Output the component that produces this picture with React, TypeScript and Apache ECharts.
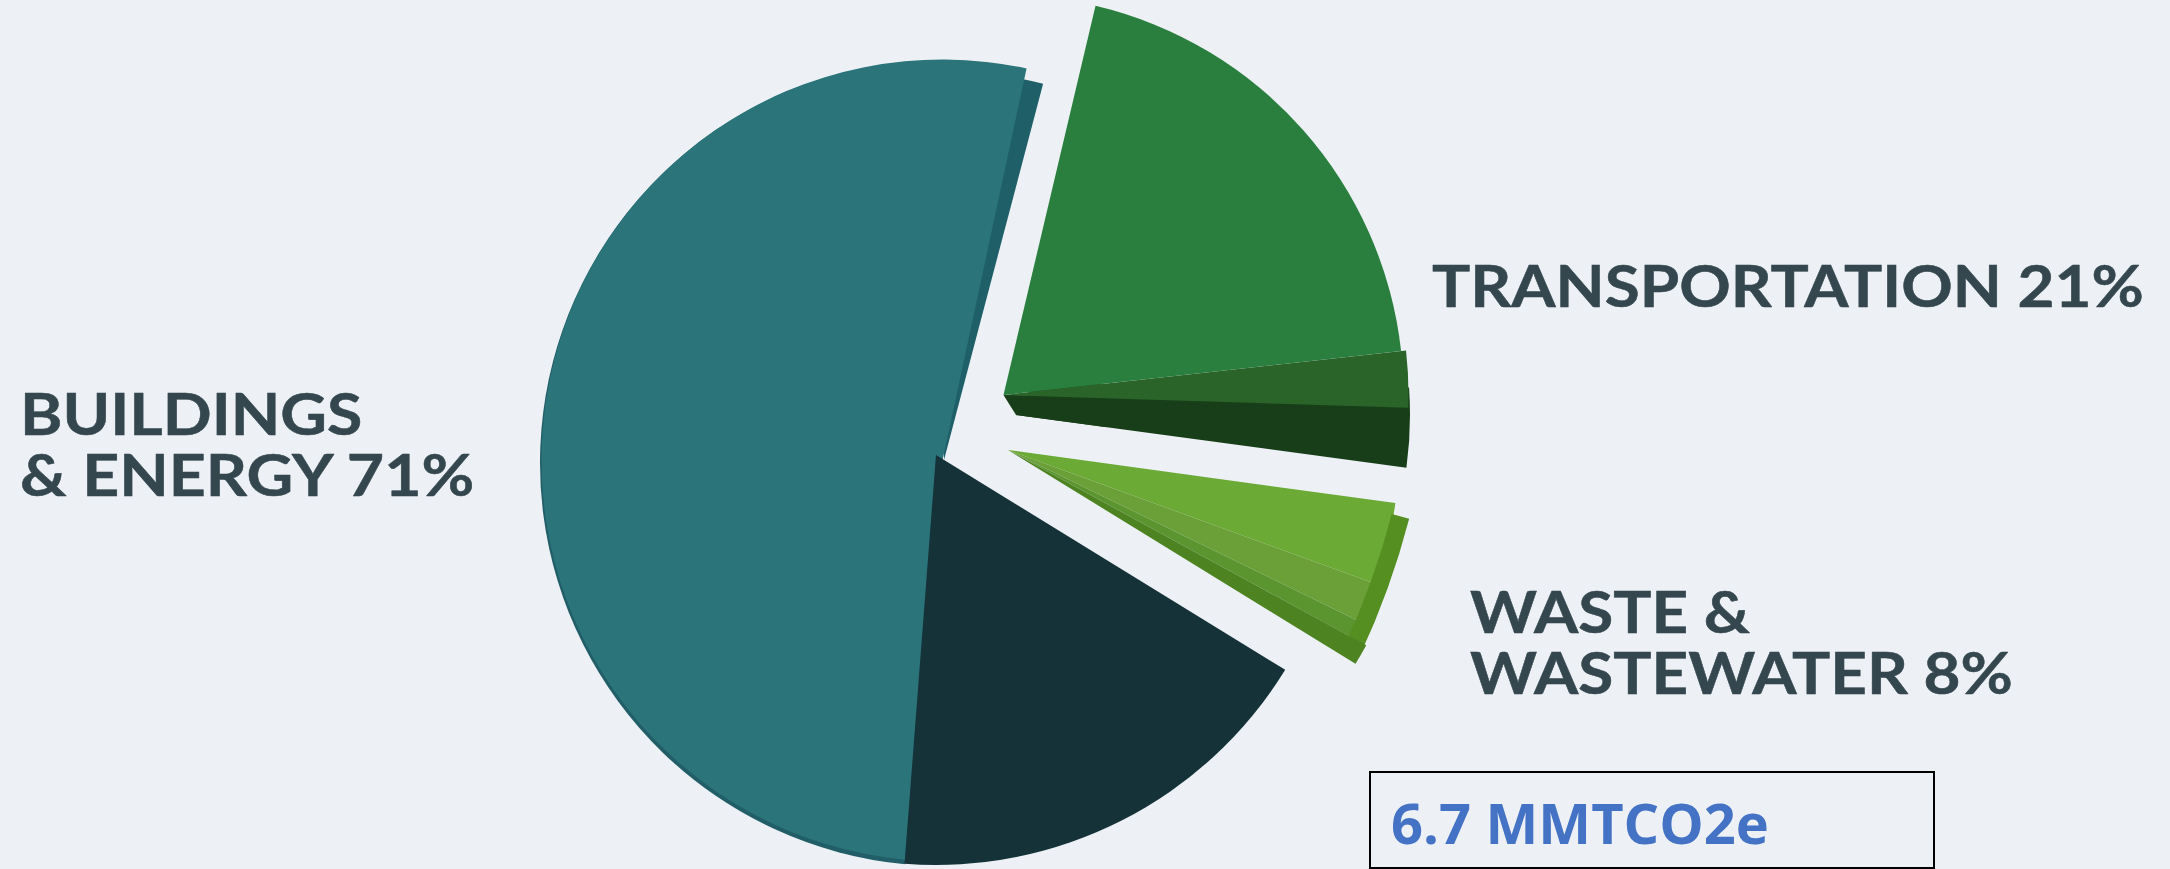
import React, { useEffect, useRef } from "react";
import * as echarts from "echarts";

const BG = "#edf1f5";
const INK = "#34474f";

// Share of the total, split into the visible facets of each exploded slice.
const buildingsTeal = [53];
const buildingsNavy = [18];
const buildingsRim = [2];
const buildingsEdge = [1];
const transportFace = [18.6];
const transportBand = [2.4];
const transportDepth = [3];
const transportBevel = [1];
const wasteFacets = [4.7, 2.3, 1];
const wasteRim = [2];
const wasteStrip = [1];

const labelBuildings = "BUILDINGS\n& ENERGY 71%";
const labelTransport = "TRANSPORTATION 21%";
const labelWaste = "WASTE &\nWASTEWATER 8%";
const totalLabel = "6.7 MMTCO2e";

function pie(
  name: string,
  values: number[],
  colors: string[],
  center: [number, number],
  radius: number | [number, number],
  fromDeg: number,
  toDeg: number,
) {
  return {
    type: "pie",
    name,
    center,
    radius: Array.isArray(radius) ? radius : [0, radius],
    startAngle: 90 - fromDeg,
    endAngle: 90 - toDeg,
    clockwise: true,
    minAngle: 0,
    avoidLabelOverlap: false,
    silent: true,
    label: { show: false },
    labelLine: { show: false },
    emphasis: { disabled: true },
    data: values.map((value, i) => ({
      value,
      name: `${name} ${i + 1}`,
      itemStyle: { color: colors[i], borderWidth: 0 },
    })),
  };
}

function label(text: string, x: number, y: number, scaleX: number) {
  return {
    type: "text",
    x,
    y,
    scaleX,
    silent: true,
    style: {
      text,
      fill: INK,
      stroke: INK,
      lineWidth: 0.5,
      font: "700 58px Lato",
      lineHeight: 61,
      textVerticalAlign: "top",
    },
  };
}

export default function App() {
  const ref = useRef<HTMLDivElement>(null);
  useEffect(() => {
    document.body.style.margin = "0";
    document.body.style.background = BG;
    const chart = echarts.init(ref.current!, undefined, { renderer: "svg" });
    chart.setOption({
      animation: false,
      backgroundColor: BG,
      series: [
        pie("Buildings edge", buildingsEdge, ["#1e5f68"], [944, 460], 389, 0, 14.76),
        pie("Buildings rim", buildingsRim, ["#215e67"], [943, 463], 403, 185.4, 340),
        pie("Buildings", buildingsTeal, ["#2b747a"], [942.5, 460.5], 401, 185.4, 372.1),
        pie("Buildings navy", buildingsNavy, ["#143238"], [936, 455], 410, 121.6, 184.4),
        pie("Transportation wedge", transportDepth, ["#173e19"], [1003.5, 395], 396, 91, 99.5),
        pie("Transportation depth", transportDepth, ["#173e19"], [1016, 415], 394, 86, 97.7),
        pie("Transportation depth near", transportBevel, ["#173e19"], [1016, 415], 90, 30, 97.7),
        pie("Transportation bevel", transportBevel, ["#173e19"], [1003.5, 395], 24, 91, 148),
        pie("Transportation band", transportBand, ["#2a6428"], [1003.5, 395], 405, 83.7, 91.8),
        pie("Transportation", transportFace, ["#2a7f3e"], [1003.5, 395], 400, 13.3, 83.7),
        pie("Waste", wasteFacets, ["#6aaa35", "#6ba038", "#5b9530"], [1008, 450], 391, 97.8, 118.6),
        pie("Waste rim", wasteRim, ["#558e21"], [635, 317], [782, 800], 104.6, 115),
        pie("Waste strip", wasteStrip, ["#4d8320"], [1008, 450], 408, 118.6, 121.6),
      ],
      graphic: [
        label(labelBuildings, 20, 382, 1.11),
        label(labelTransport, 1432, 254, 1.1),
        label(labelWaste, 1470, 580, 1.1),
        {
          type: "rect",
          silent: true,
          shape: { x: 1370, y: 772, width: 564, height: 96 },
          style: { fill: "none", stroke: "#000", lineWidth: 2 },
        },
        {
          type: "text",
          x: 1391,
          y: 822,
          silent: true,
          style: {
            text: totalLabel,
            fill: "#4472c4",
            font: "700 56px 'Open Sans'",
            textVerticalAlign: "middle",
          },
        },
      ],
    });
    return () => chart.dispose();
  }, []);
  return <div ref={ref} style={{ width: 2170, height: 869 }} />;
}
